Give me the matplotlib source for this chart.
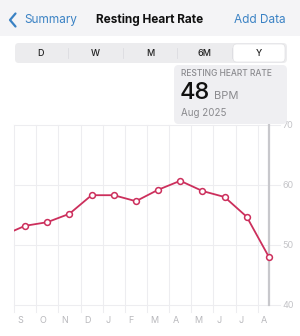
import matplotlib
matplotlib.use("Agg")
import matplotlib.pyplot as plt
from matplotlib.patches import FancyBboxPatch, Rectangle
from matplotlib.lines import Line2D

plt.rcParams['font.family'] = ['Inter', 'DejaVu Sans']

months = ["S", "O", "N", "D", "J", "F", "M", "A", "M", "J", "J", "A"]
# previous (Aug 2024) value, then Sep 2024 .. Aug 2025
prev_value = 51.6
values = [53.2, 53.8, 55.2, 58.3, 58.3, 57.3, 59.2, 60.7, 59.0, 58.0, 54.7, 48.0]
yticks = [40, 50, 60, 70]
segments = ["D", "W", "M", "6M", "Y"]
selected_value = "48"
selected_label = "Aug 2025"

W, H = 300, 336
fig = plt.figure(figsize=(W / 100, H / 100), dpi=100)
fig.patch.set_facecolor("white")

def fx(x):
    return x / W

def fy(y):
    return 1 - y / H

# header background
fig.patches.append(Rectangle((0, fy(36)), 1, 36 / H, transform=fig.transFigure,
                             facecolor="#f4f4f6", edgecolor="none", zorder=0))
blue = "#3a82c4"
fig.lines.append(Line2D([fx(15.5), fx(10), fx(15.5)], [fy(13.5), fy(20), fy(26.5)],
                        transform=fig.transFigure, color=blue, lw=1.6,
                        solid_capstyle="round", solid_joinstyle="round"))
fig.text(fx(24), fy(20), "Summary", color=blue, fontsize=8.5, va="center", ha="left")
fig.text(fx(150), fy(20), "Resting Heart Rate", color="#111111", fontsize=8.5,
         fontweight="bold", va="center", ha="center")
fig.text(fx(286), fy(20), "Add Data", color=blue, fontsize=8.5, va="center", ha="right")

# segmented control
fig.patches.append(FancyBboxPatch((fx(15), fy(63)), fx(272), 20 / H,
                                  boxstyle="round,pad=0,rounding_size=0.012",
                                  transform=fig.transFigure, facecolor="#ececee",
                                  edgecolor="none", zorder=1))
fig.patches.append(FancyBboxPatch((fx(233), fy(62)), fx(52), 18 / H,
                                  boxstyle="round,pad=0,rounding_size=0.012",
                                  transform=fig.transFigure, facecolor="white",
                                  edgecolor="#e0e0e3", linewidth=0.5, zorder=2))
seg_x = [40, 95, 150, 205, 259]
for sx, s in zip(seg_x, segments):
    fig.text(fx(sx), fy(53), s, fontsize=6.5, ha="center", va="center",
             color="#222222", fontweight="medium", zorder=3)
for sep in [68, 123, 177, 232]:
    fig.lines.append(Line2D([fx(sep), fx(sep)], [fy(48), fy(58)],
                            transform=fig.transFigure, color="#dcdce0", lw=0.6))

# chart axes
ax = fig.add_axes([fx(14), fy(305), fx(266), (305 - 125) / H])
ax.set_xlim(0, 12)
ax.set_ylim(40, 70)
for s in ax.spines.values():
    s.set_visible(False)
ax.set_xticks([])
ax.set_yticks([])

grid_c = "#ededf0"
for i in range(12):
    ax.plot([i, i], [38.8, 70], color=grid_c, lw=0.8, clip_on=False, zorder=1)
for yv in yticks:
    ax.plot([0, 12], [yv, yv], color=grid_c, lw=0.8, clip_on=False, zorder=1)
    ax.text(12.1, yv, str(yv), fontsize=6.5, color="#c4c4c8", va="center", ha="left")

for i, m in enumerate(months):
    ax.text(i + 0.15, 38.2, m, fontsize=6.5, color="#b8b8bc", va="top", ha="left")

# selection line
ax.plot([11.5, 11.5], [40, 70.3], color="#c8c8cc", lw=1.6, clip_on=False, zorder=2)

xs = [-0.5] + [i + 0.5 for i in range(12)]
ys = [prev_value] + values
line_c = "#cc2f5c"
ax.plot(xs, ys, color=line_c, lw=1.3, zorder=3)
ax.plot(xs[1:], ys[1:], linestyle="none", marker="o", markersize=4.2,
        markerfacecolor="white", markeredgecolor=line_c, markeredgewidth=1.1, zorder=4)

# callout box
fig.patches.append(FancyBboxPatch((fx(174), fy(124)), fx(113), 59 / H,
                                  boxstyle="round,pad=0,rounding_size=0.015",
                                  transform=fig.transFigure, facecolor="#efeff2",
                                  edgecolor="none", zorder=5))
fig.text(fx(181), fy(73), "RESTING HEART RATE", fontsize=6.1, color="#8a8a8e",
         va="center", ha="left", fontweight="medium", zorder=6)
fig.text(fx(180), fy(93), selected_value, fontsize=17, color="#111111",
         va="center", ha="left", fontweight="medium", zorder=6)
fig.text(fx(214), fy(96), "BPM", fontsize=8, color="#8a8a8e", va="center", ha="left", zorder=6)
fig.text(fx(181), fy(113), selected_label, fontsize=7, color="#8a8a8e",
         va="center", ha="left", zorder=6)

fig.savefig("out.png", dpi=100, facecolor="white")
